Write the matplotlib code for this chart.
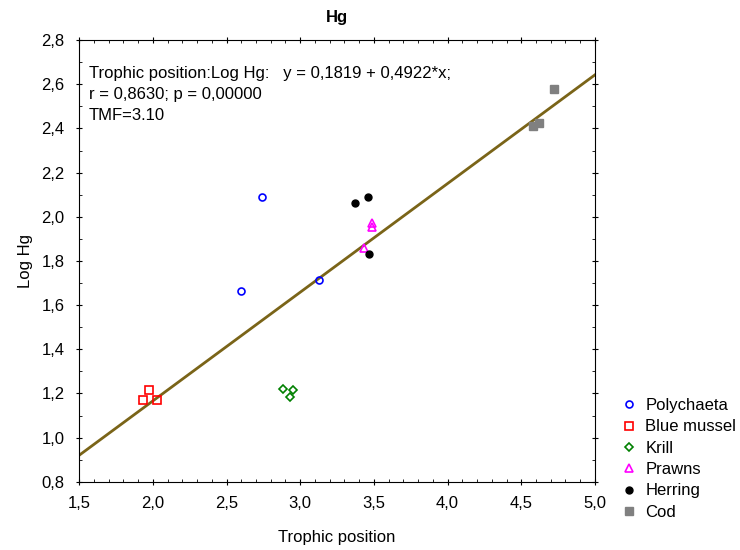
import matplotlib.pyplot as plt
from matplotlib.ticker import FuncFormatter, MultipleLocator

plt.rcParams['font.family'] = ['Liberation Sans', 'DejaVu Sans']

# data
poly_x = [2.60, 2.74, 3.13]
poly_y = [1.663, 2.091, 1.714]
mussel_x = [1.975, 1.93, 2.03]
mussel_y = [1.216, 1.172, 1.172]
krill_x = [2.885, 2.95, 2.93]
krill_y = [1.222, 1.215, 1.184]
prawn_x = [3.49, 3.485, 3.43]
prawn_y = [1.973, 1.952, 1.859]
herring_x = [3.37, 3.46, 3.47]
herring_y = [2.061, 2.091, 1.830]
cod_x = [4.72, 4.58, 4.62]
cod_y = [2.577, 2.410, 2.426]

intercept = 0.1819
slope = 0.4922
fit_x = [1.5, 5.0]

fig = plt.figure(figsize=(7.4, 5.5), dpi=100)
ax = fig.add_axes([0.107, 0.124, 0.697, 0.803])

ax.plot(fit_x, [intercept + slope * x for x in fit_x], color='#7a6418', lw=2, zorder=1)

ax.plot(poly_x, poly_y, 'o', mfc='none', mec='blue', mew=1.2, ms=5, ls='none', label='Polychaeta')
ax.plot(mussel_x, mussel_y, 's', mfc='none', mec='red', mew=1.2, ms=6, ls='none', label='Blue mussel')
ax.plot(krill_x, krill_y, 'D', mfc='none', mec='green', mew=1.2, ms=4, ls='none', label='Krill')
ax.plot(prawn_x, prawn_y, '^', mfc='none', mec='magenta', mew=1.2, ms=5.5, ls='none', label='Prawns')
ax.plot(herring_x, herring_y, 'o', color='black', ms=5, ls='none', label='Herring')
ax.plot(cod_x, cod_y, 's', color='#808080', ms=5.5, ls='none', label='Cod')

ax.set_xlim(1.5, 5.0)
ax.set_ylim(0.8, 2.8)
ax.xaxis.set_major_locator(MultipleLocator(0.5))
ax.xaxis.set_minor_locator(MultipleLocator(0.1))
ax.yaxis.set_major_locator(MultipleLocator(0.2))
ax.yaxis.set_minor_locator(MultipleLocator(0.1))
comma = FuncFormatter(lambda v, p: ('%.1f' % v).replace('.', ','))
ax.xaxis.set_major_formatter(comma)
ax.yaxis.set_major_formatter(comma)
ax.tick_params(which='major', direction='inout', top=True, right=True, labelsize=12, length=5)
ax.tick_params(which='minor', direction='in', top=True, right=True, length=2)
ax.tick_params(axis='x', which='major', pad=8)
ax.tick_params(axis='y', which='major', pad=8)

ax.set_xlabel('Trophic position', fontsize=12)
ax.set_ylabel('Log Hg', fontsize=12)
ax.xaxis.set_label_coords(0.5, -0.11)
ax.yaxis.set_label_coords(-0.09, 0.5)
ax.set_title('Hg', fontsize=12, fontweight='bold', pad=13)

ax.text(0.019, 0.942, 'Trophic position:Log Hg:   y = 0,1819 + 0,4922*x;\nr = 0,8630; p = 0,00000\nTMF=3.10',
        transform=ax.transAxes, fontsize=12, va='top', ha='left', linespacing=1.5)

ax.legend(loc='lower left', bbox_to_anchor=(1.02, -0.12), frameon=False, fontsize=12,
          handletextpad=0.5, labelspacing=0.38, handlelength=1.0)

fig.savefig('out.png', dpi=100)
